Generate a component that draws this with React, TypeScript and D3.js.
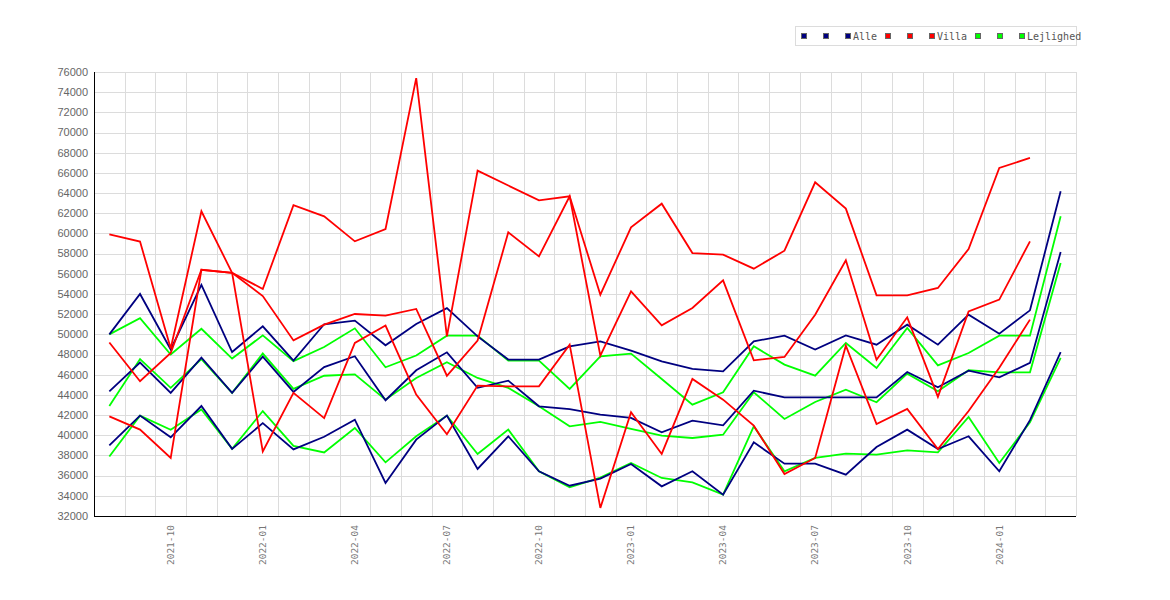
import { useEffect, useRef } from "react";
import * as d3 from "d3";

// Months on the x axis (one point per month)
const MONTHS = [
  "2021-08", "2021-09", "2021-10", "2021-11", "2021-12",
  "2022-01", "2022-02", "2022-03", "2022-04", "2022-05", "2022-06",
  "2022-07", "2022-08", "2022-09", "2022-10", "2022-11", "2022-12",
  "2023-01", "2023-02", "2023-03", "2023-04", "2023-05", "2023-06",
  "2023-07", "2023-08", "2023-09", "2023-10", "2023-11", "2023-12",
  "2024-01", "2024-02", "2024-03",
];

const Y_TICKS = d3.range(32000, 76001, 2000);

// Alle
const ALLE_HIGH = [50000, 54000, 48500, 54900, 48250, 50800, 47400, 51000, 51360, 48920, 51030, 52600, 49800, 47500, 47500, 48800, 49310, 48390, 47330, 46570, 46340, 49310, 49870, 48490, 49900, 48980, 50960, 48980, 51950, 50070, 52380, 64180];
const ALLE_MID = [44350, 47200, 44200, 47700, 44200, 47800, 44300, 46750, 47830, 43470, 46440, 48220, 44700, 45410, 42870, 42600, 42050, 41720, 40300, 41450, 40990, 44420, 43760, 43760, 43760, 43760, 46270, 44750, 46400, 45740, 47170, 58160];
const ALLE_LOW = [39000, 41950, 39800, 42900, 38650, 41200, 38600, 39850, 41550, 35270, 39570, 41950, 36660, 39900, 36430, 35000, 35700, 37160, 34940, 36430, 34120, 39300, 37190, 37190, 36100, 38840, 40560, 38640, 39900, 36430, 41500, 48230];

// Villa (no value for 2024-03)
const VILLA_HIGH = [59900, 59200, 48600, 62200, 56100, 54500, 62800, 61700, 59220, 60440, 75400, 49800, 66220, 64750, 63280, 63680, 53930, 60600, 62950, 58060, 57900, 56510, 58290, 65070, 62460, 53870, 53870, 54600, 58460, 66490, 67480];
const VILLA_MID = [49200, 45350, 48150, 56400, 56100, 53800, 49400, 50960, 52020, 51850, 52520, 45900, 49380, 60110, 57730, 63680, 47890, 54270, 50900, 52610, 55350, 47430, 47760, 51950, 57340, 47490, 51690, 43800, 52280, 53440, 59220];
const VILLA_LOW = [41880, 40560, 37750, 56400, 56100, 38400, 44200, 41700, 49150, 50870, 44030, 40100, 44920, 44850, 44850, 48980, 32800, 42280, 38150, 45580, 43530, 40950, 36160, 37750, 48880, 41120, 42610, 38640, 42400, 46700, 51460];

// Lejlighed
const LEJL_HIGH = [50000, 51600, 48000, 50550, 47600, 49900, 47350, 48750, 50600, 46740, 47900, 49870, 49870, 47400, 47400, 44590, 47830, 48090, 45580, 43040, 44260, 48820, 47000, 45910, 49150, 46670, 50630, 46930, 48150, 49870, 49870, 61700];
const LEJL_MID = [42900, 47550, 44700, 47550, 44200, 48100, 44600, 45900, 46040, 43530, 45680, 47230, 45680, 44690, 42870, 40890, 41320, 40630, 39960, 39730, 40060, 44260, 41620, 43300, 44520, 43270, 46110, 44360, 46440, 46240, 46240, 57070];
const LEJL_LOW = [37900, 41950, 40550, 42550, 38650, 42400, 38950, 38300, 40720, 37320, 39900, 41950, 38150, 40560, 36430, 34840, 35800, 37250, 35770, 35340, 34120, 40890, 36430, 37750, 38180, 38080, 38510, 38310, 41820, 37250, 41290, 47660];

const NAVY = "#000080";
const RED = "#ff0000";
const GREEN = "#00ff00";

// Legend entries: one swatch per series, label only on the last of each group
const LEGEND = [
  { color: NAVY, label: " " }, { color: NAVY, label: " " }, { color: NAVY, label: "Alle" },
  { color: RED, label: " " }, { color: RED, label: " " }, { color: RED, label: "Villa" },
  { color: GREEN, label: " " }, { color: GREEN, label: " " }, { color: GREEN, label: "Lejlighed" },
];

const W = 1170;
const H = 600;
const M = { left: 94, right: 1076, top: 72, bottom: 516 };

export default function App() {
  const svgRef = useRef<SVGSVGElement>(null);

  useEffect(() => {
    document.body.style.margin = "0";
    const svg = d3.select(svgRef.current);
    svg.selectAll("*").remove();

    const x = d3.scaleLinear().domain([-0.5, MONTHS.length - 0.5]).range([M.left, M.right]);
    const y = d3.scaleLinear().domain([32000, 76000]).range([M.bottom, M.top]);

    // ── Grid ────────────────────────────────────────────────────────────────
    const grid = svg.append("g").attr("stroke", "#dcdcdc").attr("stroke-width", 1);
    grid.selectAll("line.h")
      .data(Y_TICKS)
      .join("line")
      .attr("class", "h")
      .attr("x1", M.left).attr("x2", M.right)
      .attr("y1", (d) => Math.round(y(d)) + 0.5)
      .attr("y2", (d) => Math.round(y(d)) + 0.5);
    grid.selectAll("line.v")
      .data(d3.range(1, MONTHS.length + 1))
      .join("line")
      .attr("class", "v")
      .attr("y1", M.top).attr("y2", M.bottom)
      .attr("x1", (k) => Math.round(x(k - 0.5)) + 0.5)
      .attr("x2", (k) => Math.round(x(k - 0.5)) + 0.5);

    // ── Axes ────────────────────────────────────────────────────────────────
    svg.append("line")
      .attr("x1", M.left + 0.5).attr("x2", M.left + 0.5)
      .attr("y1", M.top).attr("y2", M.bottom + 0.5)
      .attr("stroke", "#000");
    svg.append("line")
      .attr("x1", M.left).attr("x2", M.right)
      .attr("y1", M.bottom + 0.5).attr("y2", M.bottom + 0.5)
      .attr("stroke", "#000");

    svg.append("g")
      .selectAll("text")
      .data(Y_TICKS)
      .join("text")
      .attr("x", 88)
      .attr("y", (d) => y(d))
      .attr("dy", "0.35em")
      .attr("text-anchor", "end")
      .attr("font-family", "Liberation Sans, Arial, sans-serif")
      .attr("font-size", "11px")
      .attr("fill", "#666")
      .text((d) => d);

    svg.append("g")
      .selectAll("text")
      .data(MONTHS.map((m, i) => ({ m, i })).filter((d) => ["01", "04", "07", "10"].includes(d.m.slice(5))))
      .join("text")
      .attr("transform", (d) => `translate(${x(d.i)},525) rotate(-90)`)
      .attr("dy", "0.35em")
      .attr("text-anchor", "end")
      .attr("font-family", "DejaVu Sans Mono, monospace")
      .attr("font-size", "9.5px")
      .attr("fill", "#777")
      .text((d) => d.m);

    // ── Lines ───────────────────────────────────────────────────────────────
    const series = [
      { color: GREEN, values: LEJL_HIGH }, { color: GREEN, values: LEJL_MID }, { color: GREEN, values: LEJL_LOW },
      { color: NAVY, values: ALLE_HIGH }, { color: NAVY, values: ALLE_MID }, { color: NAVY, values: ALLE_LOW },
      { color: RED, values: VILLA_HIGH }, { color: RED, values: VILLA_MID }, { color: RED, values: VILLA_LOW },
    ];
    const line = d3.line<number>().x((_, i) => x(i)).y((v) => y(v));
    svg.append("g")
      .selectAll("path")
      .data(series)
      .join("path")
      .attr("d", (d) => line(d.values))
      .attr("fill", "none")
      .attr("stroke", (d) => d.color)
      .attr("stroke-width", 1.8)
      .attr("stroke-linejoin", "miter");

    // ── Legend ──────────────────────────────────────────────────────────────
    const lg = svg.append("g");
    lg.append("rect")
      .attr("x", 795.5).attr("y", 26.5)
      .attr("width", 281).attr("height", 19)
      .attr("fill", "#fff")
      .attr("stroke", "#dcdcdc");
    let lx = 801;
    LEGEND.forEach((e) => {
      lg.append("rect")
        .attr("x", lx + 0.5).attr("y", 33.5)
        .attr("width", 5).attr("height", 5)
        .attr("fill", e.color)
        .attr("stroke", "#666");
      if (e.label.trim()) {
        lg.append("text")
          .attr("x", lx + 8)
          .attr("y", 40)
          .attr("font-family", "DejaVu Sans Mono, monospace")
          .attr("font-size", "10px")
          .attr("fill", "#555")
          .text(e.label);
      }
      lx += 16 + 6 * e.label.length;
    });
  }, []);

  return <svg ref={svgRef} width={W} height={H} style={{ display: "block", background: "#fff" }} />;
}
